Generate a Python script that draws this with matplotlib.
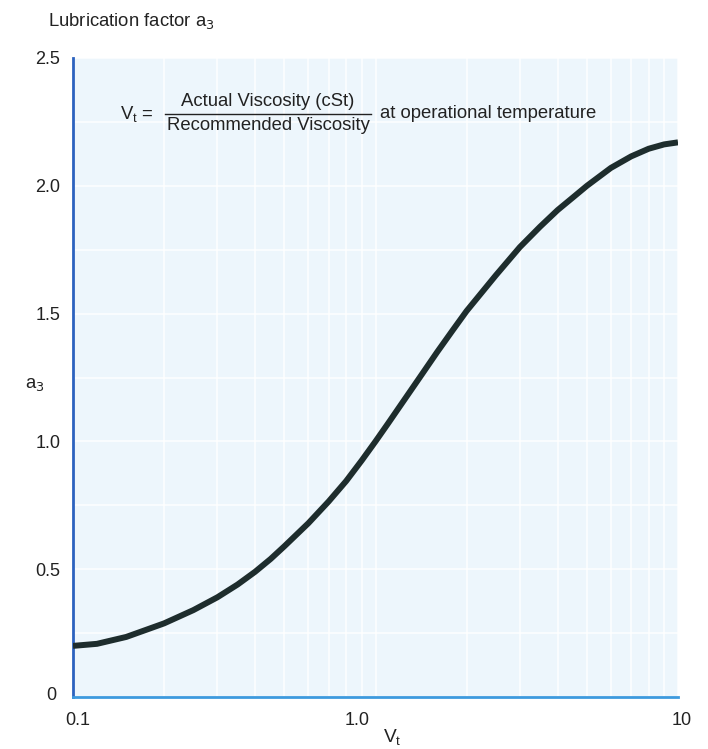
import matplotlib
matplotlib.use("Agg")
import matplotlib.pyplot as plt
from matplotlib.ticker import LogLocator, MultipleLocator, NullFormatter
from matplotlib.transforms import ScaledTranslation
from matplotlib.lines import Line2D

plt.rcParams['font.family'] = ['Liberation Sans', 'DejaVu Sans']

# Viscosity ratio V_t and the lubrication factor a3
vt = [0.1, 0.12, 0.15, 0.2, 0.25, 0.3, 0.35, 0.4, 0.45, 0.5, 0.6, 0.7, 0.8, 0.9,
      1.0, 1.1, 1.2, 1.4, 1.6, 1.8, 2.0, 2.5, 3.0, 3.5, 4.0, 4.5, 5.0, 6.0,
      7.0, 8.0, 9.0, 10.0]
a3 = [0.200, 0.208, 0.235, 0.288, 0.340, 0.390, 0.440, 0.490, 0.540, 0.590,
      0.680, 0.765, 0.845, 0.925, 1.000, 1.070, 1.135, 1.250, 1.350, 1.435,
      1.510, 1.650, 1.760, 1.840, 1.905, 1.955, 2.000, 2.070, 2.115, 2.145,
      2.162, 2.170]

x_ticks = [0.1, 1.0, 10.0]
x_tick_labels = ["0.1", "1.0", "10"]
y_ticks = [0, 0.5, 1.0, 1.5, 2.0, 2.5]
y_tick_labels = ["0", "0.5", "1.0", "1.5", "2.0", "2.5"]

W, H = 708, 749
fig = plt.figure(figsize=(W / 100, H / 100), dpi=100)
ax = fig.add_axes([73 / W, 1 - 697 / H, (678 - 73) / W, (697 - 58) / H])
ax.set_facecolor('#edf6fc')

ax.set_xscale('log')
ax.set_xlim(0.1, 10)
ax.set_ylim(0, 2.5)

# faint white grid on the tinted panel
ax.xaxis.set_minor_locator(LogLocator(base=10, subs=range(2, 10)))
ax.xaxis.set_minor_formatter(NullFormatter())
ax.yaxis.set_minor_locator(MultipleLocator(0.25))
ax.grid(True, which='both', color='white', linewidth=1.3, alpha=0.75)
ax.set_axisbelow(True)

ax.plot(vt, a3, color='#1e2d2d', linewidth=4.3, solid_capstyle='butt',
        solid_joinstyle='round', zorder=3)

ax.set_xticks(x_ticks)
ax.set_xticklabels(x_tick_labels)
ax.set_yticks(y_ticks)
ax.set_yticklabels(y_tick_labels)
ax.tick_params(which='both', length=0)
ax.tick_params(axis='x', pad=11, labelsize=13, colors='#222222')
ax.tick_params(axis='y', pad=9, labelsize=13, colors='#222222')

labs = ax.get_xticklabels()
labs[0].set_transform(labs[0].get_transform() + ScaledTranslation(5 / 100, 0, fig.dpi_scale_trans))
labs[1].set_transform(labs[1].get_transform() + ScaledTranslation(-18 / 100, 0, fig.dpi_scale_trans))
labs[2].set_transform(labs[2].get_transform() + ScaledTranslation(4 / 100, 0, fig.dpi_scale_trans))
ylabs = ax.get_yticklabels()
ylabs[0].set_transform(ylabs[0].get_transform() + ScaledTranslation(-4 / 100, 3 / 100, fig.dpi_scale_trans))

for side in ('top', 'right'):
    ax.spines[side].set_visible(False)
ax.spines['left'].set_color('#2c62bf')
ax.spines['left'].set_linewidth(2.0)
ax.spines['bottom'].set_color('#3d9ade')
ax.spines['bottom'].set_linewidth(2.0)


def fx(px):
    return px / W


def fy(py):
    return 1 - py / H


fs = 13.3
fig.text(fx(48), fy(21), r"Lubrication factor a$_3$", fontsize=fs, ha='left', va='center', color='#222222')
fig.text(fx(25), fy(384), r"a$_3$", fontsize=fs, ha='left', va='center', color='#222222')
fig.text(fx(392), fy(738), r"V$_\mathregular{t}$", fontsize=fs + 0.5, ha='center', va='center', color='#222222')

# defining formula for the viscosity ratio
fig.text(fx(120), fy(114), r"V$_\mathregular{t}$ =", fontsize=fs, ha='left', va='center', color='#222222')
fig.text(fx(268), fy(102), "Actual Viscosity (cSt)", fontsize=fs, ha='center', va='center', color='#222222')
fig.text(fx(268), fy(125), "Recommended Viscosity", fontsize=fs, ha='center', va='center', color='#222222')
fig.add_artist(Line2D([fx(165), fx(371)], [fy(114), fy(114)], color='#222222', linewidth=1.0))
fig.text(fx(380), fy(114), "at operational temperature", fontsize=fs, ha='left', va='center', color='#222222')

fig.savefig("out.png", dpi=100, facecolor='white')
